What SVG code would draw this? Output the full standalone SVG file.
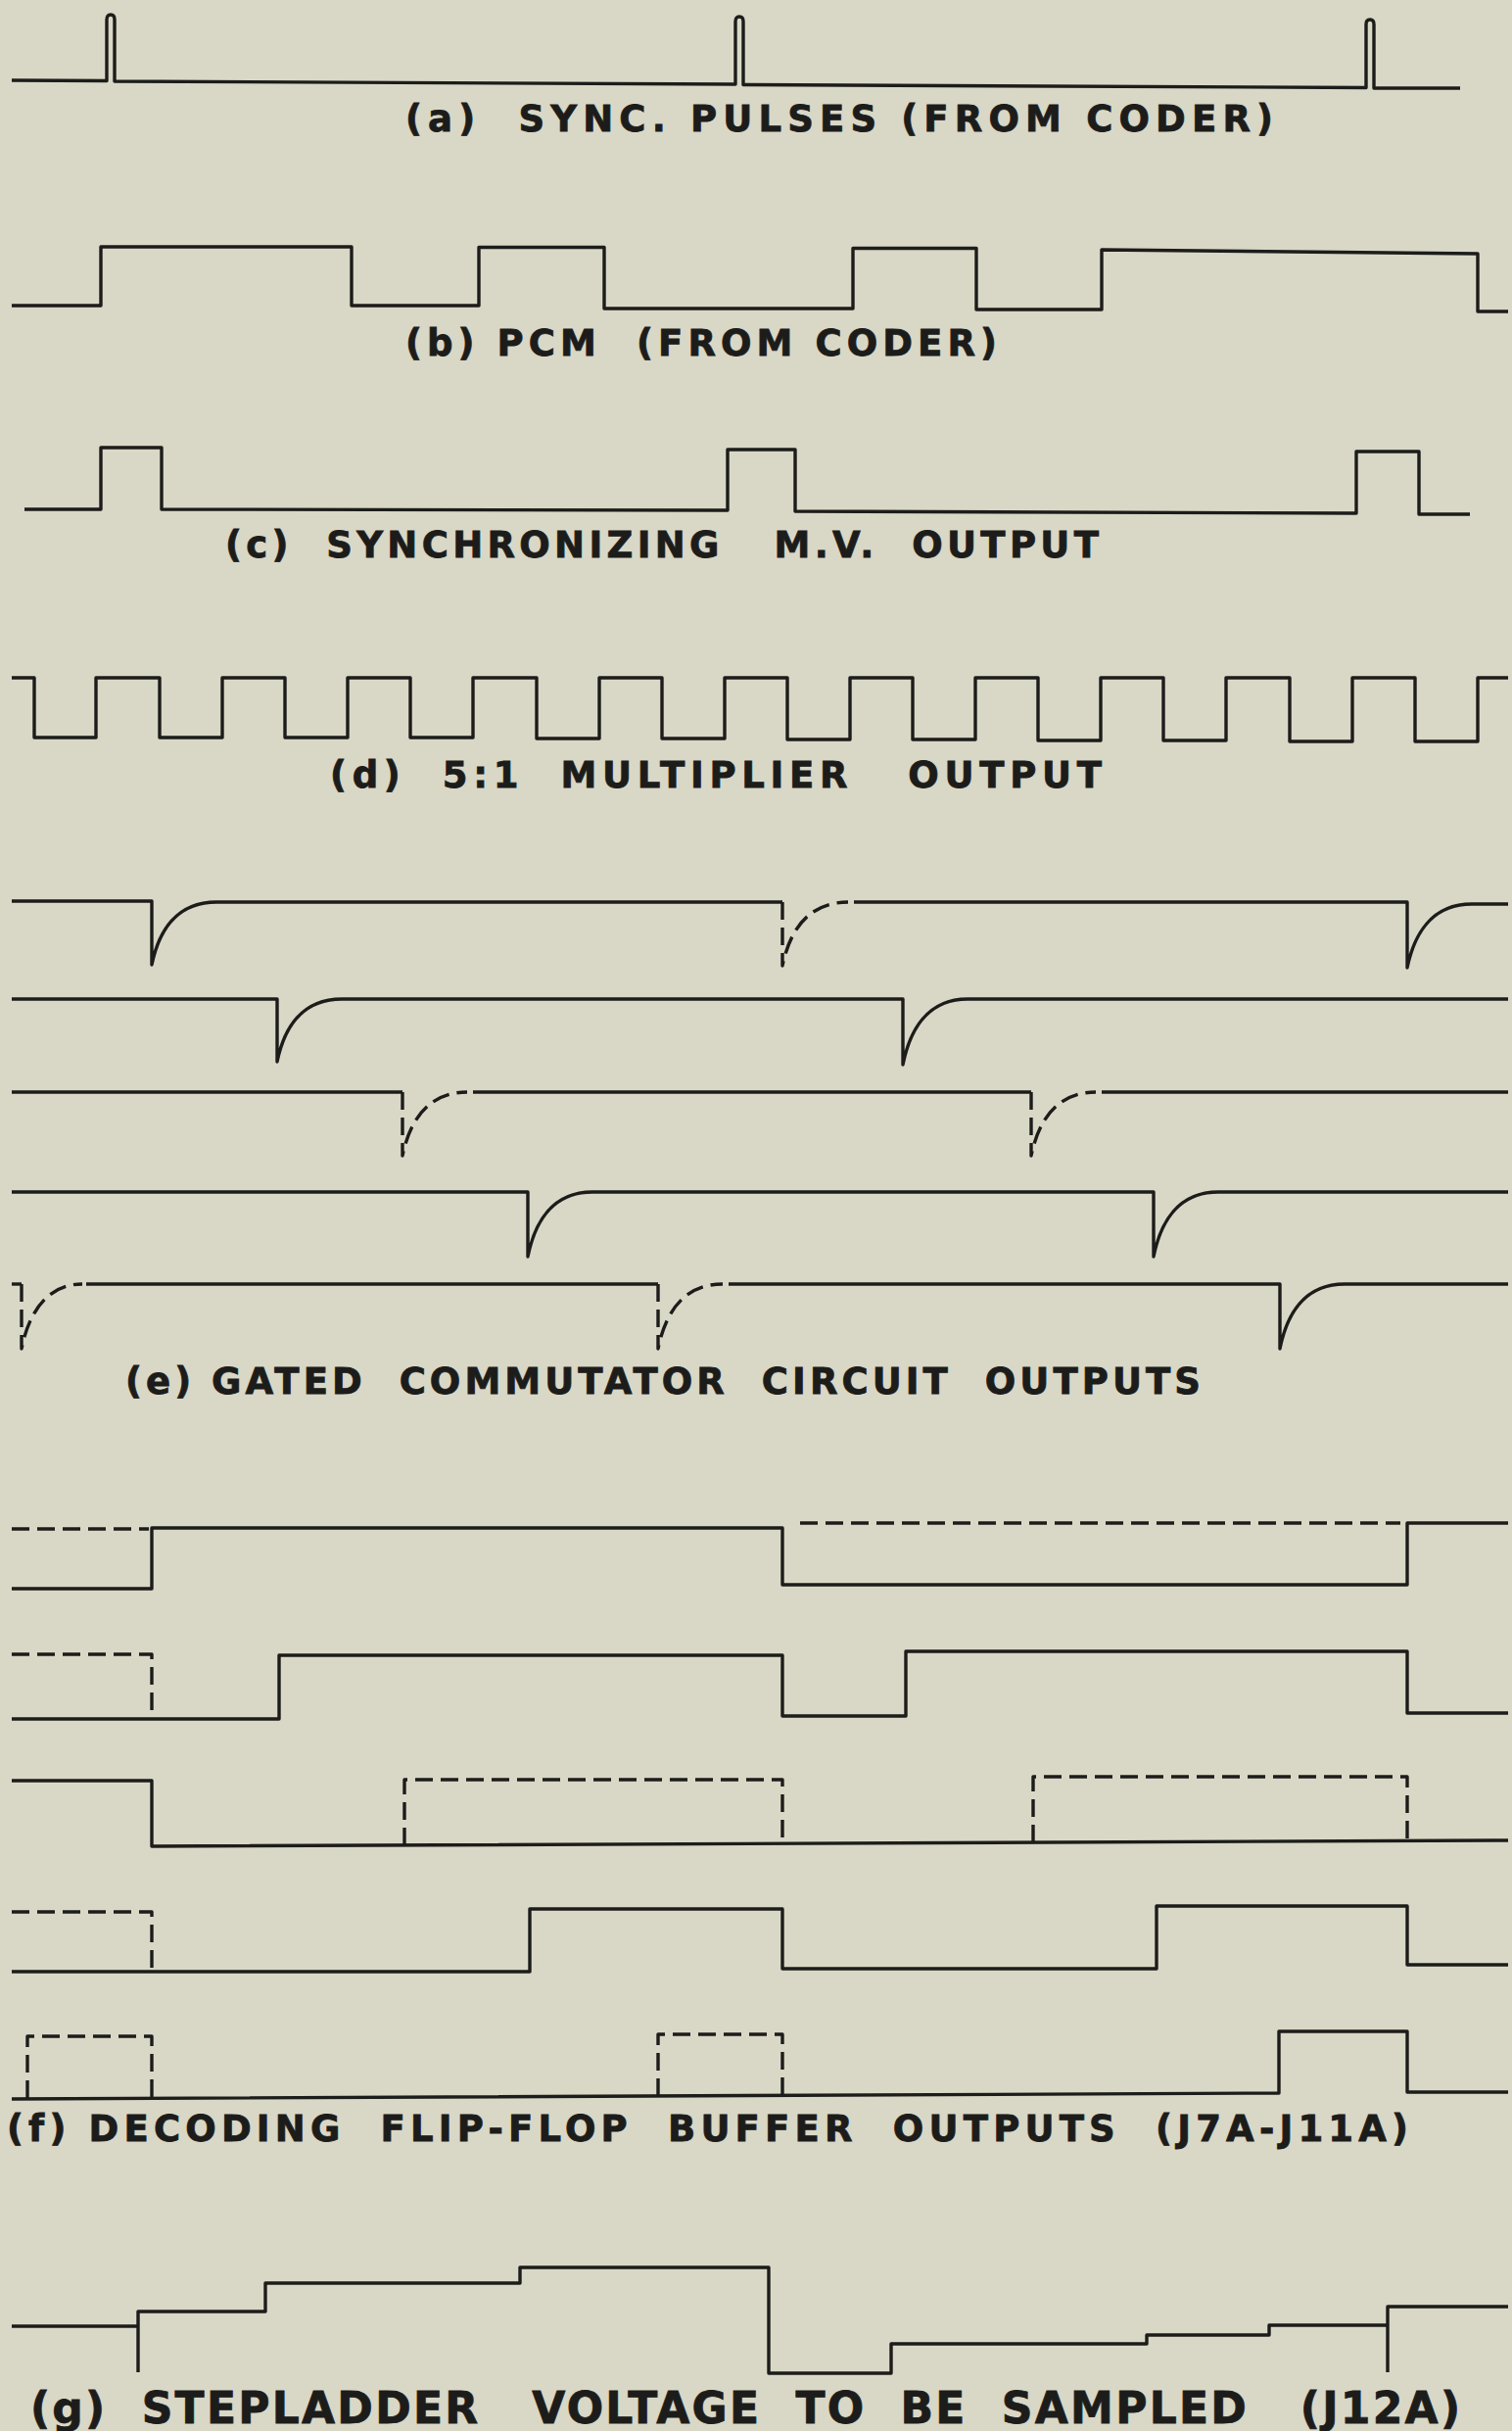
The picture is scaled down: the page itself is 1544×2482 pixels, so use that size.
<svg xmlns="http://www.w3.org/2000/svg" width="1544" height="2482" viewBox="0 0 1544 2482">
<style>
.w{fill:none;stroke:#1c1c1a;stroke-width:3.4;stroke-linejoin:round;stroke-linecap:butt}
.d{fill:none;stroke:#1c1c1a;stroke-width:3.4;stroke-dasharray:18 8;stroke-linejoin:round}
.t{font-family:"DejaVu Sans","Liberation Sans",sans-serif;font-weight:bold;font-size:37px;fill:#1c1c1a;stroke:#1c1c1a;stroke-width:0.8;white-space:pre}
</style>
<rect width="1544" height="2482" fill="#d9d7c6"/>
<g id="wave-a">
<path class="w" d="M12,82 L109,82.5 V20 Q109,15 113,15 Q117,15 117,20 V83 L751,86 V22 Q751,17 755,17 Q759,17 759,22 V86.5 L1395,89.5 V25 Q1395,20 1399,20 Q1403,20 1403,25 V90 L1491,90"/>
<text id="label-a" class="t" x="414" y="134" textLength="886" lengthAdjust="spacing">(a)  SYNC. PULSES (FROM CODER)</text>
</g>
<g id="wave-b">
<path class="w" d="M12,312 H103 V252 H359 V312 H489 V252.5 H617 V315 H871 V253.5 H997 V316 H1125 V255 L1509,259 V318 H1540"/>
<text id="label-b" class="t" x="414" y="363" textLength="604" lengthAdjust="spacing">(b) PCM  (FROM CODER)</text>
</g>
<g id="wave-c">
<path class="w" d="M25,520 H103 V457 H165 V520 L743,521 V459 H812 V522 L1385,524 V461 H1449 V525 H1501"/>
<text id="label-c" class="t" x="230" y="569" textLength="892" lengthAdjust="spacing">(c)  SYNCHRONIZING   M.V.  OUTPUT</text>
</g>
<g id="wave-d">
<path class="w" d="M12,692 H35 V753 H98 V692 H163 V753 H227 V692 H291 V753 H355 V692 H419 V753 H483 V692 H548 V754 H612 V692 H676 V754 H740 V692 H804 V755 H868 V692 H932 V755 H996 V692 H1060 V756 H1124 V692 H1188 V756 H1252 V692 H1317 V757 H1381 V692 H1445 V757 H1509 V692 H1540"/>
<text id="label-d" class="t" x="337" y="804" textLength="788" lengthAdjust="spacing">(d)  5:1  MULTIPLIER   OUTPUT</text>
</g>
<g id="wave-e">
<path class="w" d="M12,920 H155 V985 C162,951 180,921 221,921 H799"/>
<path class="d" d="M799,921 V986 C806,952 824,921 866,921"/>
<path class="w" d="M872,921 H1437 V988 C1444,954 1462,923 1503,923 H1540"/>
<path class="w" d="M12,1020 H283 V1084 C290,1050 308,1020 349,1020 H922 V1087 C929,1052 947,1020 988,1020 H1540"/>
<path class="w" d="M12,1115 H411"/>
<path class="d" d="M411,1115 V1180 C418,1146 436,1115 477,1115"/>
<path class="w" d="M483,1115 H1053"/>
<path class="d" d="M1053,1115 V1180 C1060,1146 1078,1115 1119,1115"/>
<path class="w" d="M1125,1115 H1540"/>
<path class="w" d="M12,1217 H539 V1283 C546,1248 564,1217 605,1217 H1178 V1283 C1185,1248 1203,1217 1244,1217 H1540"/>
<path class="w" d="M12,1311 H22"/>
<path class="d" d="M22,1311 V1377 C29,1342 47,1311 84,1311"/>
<path class="w" d="M88,1311 H672"/>
<path class="d" d="M672,1311 V1377 C679,1342 697,1311 738,1311"/>
<path class="w" d="M744,1311 H1307 V1377 C1314,1342 1332,1311 1373,1311 H1540"/>
<text id="label-e" class="t" x="128" y="1423" textLength="1098" lengthAdjust="spacing">(e) GATED  COMMUTATOR  CIRCUIT  OUTPUTS</text>
</g>
<g id="wave-f">
<path class="d" d="M12,1561 H152"/>
<path class="w" d="M12,1622 H155 V1560 H799 V1618 H1437 V1555 H1540"/>
<path class="d" d="M817,1555 H1430"/>
<path class="d" d="M12,1689 H155 V1752"/>
<path class="w" d="M12,1755 H285 V1690 H799 V1752 H925 V1686 H1437 V1749 H1540"/>
<path class="w" d="M12,1818 H155 V1885 L1540,1879"/>
<path class="d" d="M413,1884 V1817 H799 V1882"/>
<path class="d" d="M1055,1881 V1814 H1437 V1880"/>
<path class="d" d="M12,1952 H155 V2011"/>
<path class="w" d="M12,2013 H541 V1949 H799 V2010 H1181 V1946 H1437 V2006 H1540"/>
<path class="w" d="M12,2143 L1306,2137 V2074 H1437 V2136 H1540"/>
<path class="d" d="M28,2142 V2079 H155 V2142"/>
<path class="d" d="M672,2140 V2077 H799 V2140"/>
<text id="label-f" class="t" x="7" y="2186" textLength="1431" lengthAdjust="spacing">(f) DECODING  FLIP-FLOP  BUFFER  OUTPUTS  (J7A-J11A)</text>
</g>
<g id="wave-g">
<path class="w" d="M12,2375 H141"/>
<path class="w" d="M141,2422 V2360 H271 V2331 H531 V2315 H785 V2423 H910 V2393 H1171 V2384 H1296 V2374 H1417"/>
<path class="w" d="M1417,2422 V2355 H1540"/>
<text id="label-g" class="t" x="31" y="2474" textLength="1460" lengthAdjust="spacing" style="font-size:44px">(g)  STEPLADDER   VOLTAGE  TO  BE  SAMPLED   (J12A)</text>
</g>
</svg>
